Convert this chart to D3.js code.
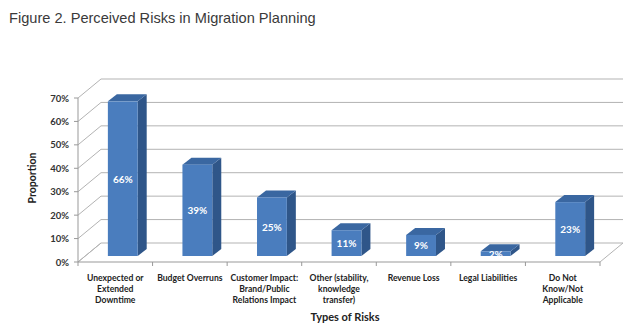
<!DOCTYPE html>
<html><head><meta charset="utf-8">
<script src="https://cdn.jsdelivr.net/npm/d3@7"></script>
<style>body{margin:0;background:#fff}svg{display:block}</style>
</head><body>
<script>
const categories = [
  ["Unexpected or","Extended","Downtime"],
  ["Budget Overruns"],
  ["Customer Impact:","Brand/Public","Relations Impact"],
  ["Other (stability,","knowledge","transfer)"],
  ["Revenue Loss"],
  ["Legal Liabilities"],
  ["Do Not","Know/Not","Applicable"]
];
const values = [0.66, 0.39, 0.25, 0.11, 0.09, 0.02, 0.23];
const valueLabels = ["66%","39%","25%","11%","9%","2%","23%"];
const yTicks = [0,0.1,0.2,0.3,0.4,0.5,0.6,0.7];

const W=640,H=329;
const svg=d3.select("body").append("svg").attr("width",W).attr("height",H);

const keys = categories.map((c,i)=>"c"+i);
const x=d3.scaleBand().domain(keys).range([78,600]);
const y=d3.scaleLinear().domain([0,0.7]).range([262,98]);
const DX=23, DY=-19;      // wall depth
const OX=7.5, OY=-6;      // bar front offset
const SX=9, SY=-7;        // bar depth
const grid="#b3b3b3";

// title
svg.append("text").attr("x",9).attr("y",23).attr("font-family","Liberation Sans, Arial, sans-serif")
  .attr("font-size",14.6).attr("fill","#3a3a3a").text("Figure 2. Perceived Risks in Migration Planning");

const g=svg.append("g");
// back wall gridlines + left wall diagonals
yTicks.forEach(t=>{
  const yy=y(t);
  g.append("line").attr("x1",x.range()[0]).attr("y1",yy).attr("x2",x.range()[0]+DX).attr("y2",yy+DY)
    .attr("stroke",grid).attr("stroke-width",1);
  if(t>0) g.append("line").attr("x1",x.range()[0]+DX).attr("y1",yy+DY).attr("x2",x.range()[1]+DX).attr("y2",yy+DY)
    .attr("stroke",grid).attr("stroke-width",1);
});
// floor
const x0=x.range()[0], x1=x.range()[1], y0=y(0);
g.append("path").attr("d",`M${x0},${y0}L${x0+DX},${y0+DY}L${x1+DX},${y0+DY}L${x1},${y0}`)
  .attr("fill","none").attr("stroke",grid);

// front axes
g.append("line").attr("x1",x0).attr("y1",y(0.7)).attr("x2",x0).attr("y2",y0).attr("stroke","#999");
g.append("line").attr("x1",x0).attr("y1",y0).attr("x2",x1).attr("y2",y0).attr("stroke","#999");
yTicks.forEach(t=>{
  g.append("line").attr("x1",x0-4).attr("x2",x0).attr("y1",y(t)).attr("y2",y(t)).attr("stroke","#999");
  g.append("text").attr("x",x0-9).attr("y",y(t)+3.5).attr("text-anchor","end")
    .attr("font-family","Lato, sans-serif").attr("font-weight","bold").attr("font-size",9.5).attr("fill","#333")
    .text(d3.format(".0%")(t));
});
keys.concat(["end"]).forEach((k,i)=>{
  const xx = i<keys.length ? x(k) : x1;
  g.append("line").attr("x1",xx).attr("x2",xx).attr("y1",y0).attr("y2",y0+4).attr("stroke","#999");
});

// bars
const bw=x.bandwidth()*0.4;
values.forEach((v,i)=>{
  const k=keys[i];
  const bx=x(k)+x.bandwidth()/2-bw/2+OX;
  const bb=y(0)+OY, bt=y(v)+OY;
  g.append("path").attr("d",`M${bx+bw},${bb}L${bx+bw+SX},${bb+SY}L${bx+bw+SX},${bt+SY}L${bx+bw},${bt}Z`).attr("fill","#2f5689");
  g.append("path").attr("d",`M${bx},${bt}L${bx+SX},${bt+SY}L${bx+bw+SX},${bt+SY}L${bx+bw},${bt}Z`).attr("fill","#3a67a1");
  g.append("rect").attr("x",bx).attr("y",bt).attr("width",bw).attr("height",bb-bt).attr("fill","#4a7dbe");
  g.append("text").attr("x",bx+bw/2).attr("y",(bt+bb)/2+4).attr("text-anchor","middle")
    .attr("font-family","Lato, sans-serif").attr("font-weight","bold").attr("font-size",10).attr("fill","#fff")
    .text(valueLabels[i]);
});

// category labels
categories.forEach((lines,i)=>{
  const t=svg.append("text").attr("x",x(keys[i])+x.bandwidth()/2).attr("y",281).attr("text-anchor","middle")
    .attr("font-family","Lato, sans-serif").attr("font-weight","bold").attr("font-size",8.6).attr("fill","#222");
  lines.forEach((l,j)=>t.append("tspan").attr("x",x(keys[i])+x.bandwidth()/2).attr("dy",j?11:0).text(l));
});
// axis titles
svg.append("text").attr("x",(x0+x1)/2+6).attr("y",321).attr("text-anchor","middle")
  .attr("font-family","Lato, sans-serif").attr("font-weight","bold").attr("font-size",11).attr("fill","#222").text("Types of Risks");
svg.append("text").attr("transform","translate(36,178) rotate(-90)").attr("text-anchor","middle")
  .attr("font-family","Lato, sans-serif").attr("font-weight","bold").attr("font-size",10.5).attr("fill","#222").text("Proportion");
</script>
</body></html>
